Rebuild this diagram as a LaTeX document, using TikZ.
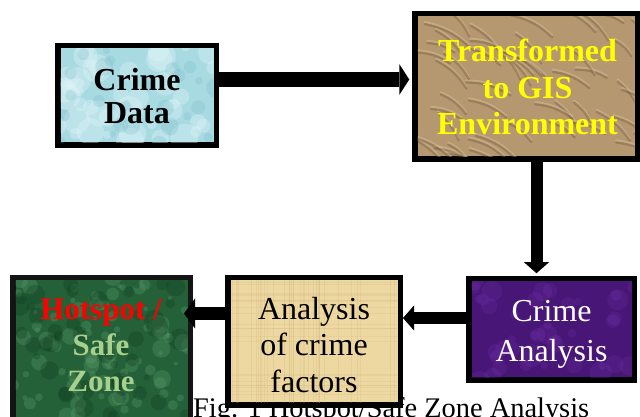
\documentclass[tikz,border=0pt]{standalone}
\usepackage{fontspec}
\setmainfont{Liberation Serif}
\usetikzlibrary{arrows.meta}
\definecolor{cdfill}{RGB}{168,218,226}
\definecolor{cdlight}{RGB}{225,245,248}
\definecolor{cddark}{RGB}{120,185,198}
\definecolor{trfill}{RGB}{182,152,112}
\definecolor{trdark}{RGB}{105,80,52}
\definecolor{trlight}{RGB}{230,210,175}
\definecolor{cafill}{RGB}{72,22,118}
\definecolor{calight}{RGB}{105,45,160}
\definecolor{anfill}{RGB}{238,216,162}
\definecolor{anfiber}{RGB}{205,178,120}
\definecolor{hsfill}{RGB}{36,96,56}
\definecolor{hslight}{RGB}{95,160,110}
\definecolor{hsdark}{RGB}{15,60,32}
\definecolor{boxdark}{RGB}{20,20,20}
\definecolor{safegreen}{RGB}{168,208,140}
\definecolor{gisyellow}{RGB}{255,255,0}
\begin{document}
\begin{tikzpicture}[x=1pt,y=1pt,
  box/.style={draw=black, line width=5.5pt, inner sep=0pt},
  label text/.style={anchor=north, inner sep=0pt, align=center},
  bigarrow/.style={line width=15pt, -{Triangle[width=31pt,length=10pt,line width=0pt]}},
  midarrow/.style={line width=12pt, -{Triangle[width=25pt,length=11pt,line width=0pt]}},
  lowarrow/.style={line width=13pt, -{Triangle[width=30pt,length=11pt,line width=0pt]}}]
\clip (0,0) rectangle (640,417);
\fill[white] (0,0) rectangle (640,417);
\pgfmathsetseed{7}
% caption (partly hidden behind the boxes)
\node[anchor=base west, inner sep=0pt, font=\fontsize{28.4}{30}\selectfont] (cap) at (193,-0.5) {Fig. 1 Hotspot/Safe Zone Analysis};
% boxes
\node[box, fill=cdfill, minimum width=158.5pt, minimum height=99.5pt] (cd) at (137,321.5) {};
\node[box, fill=trfill, minimum width=222.5pt, minimum height=145.5pt] (tr) at (526,330.5) {};
\node[box, fill=cafill, minimum width=165.5pt, minimum height=101.5pt] (ca) at (551.5,87.5) {};
\node[box, fill=anfill, minimum width=172.5pt, minimum height=127.5pt] (an) at (314,75.5) {};
\node[box, draw=boxdark, fill=hsfill, minimum width=177.5pt, minimum height=149.5pt] (hs) at (101.5,64.5) {};
% textures inside the boxes
\begin{scope}
\clip (60.5,274.5) rectangle (213.5,368.5);
\foreach \i in {1,...,45}{
  \pgfmathsetmacro\px{58+158*rnd}
  \pgfmathsetmacro\py{272+98*rnd}
  \pgfmathsetmacro\pr{4+11*rnd}
  \fill[cdlight,opacity=0.35] (\px,\py) circle[radius=\pr pt];
}
\foreach \i in {1,...,25}{
  \pgfmathsetmacro\px{58+158*rnd}
  \pgfmathsetmacro\py{272+98*rnd}
  \pgfmathsetmacro\pr{3+7*rnd}
  \fill[cddark,opacity=0.25] (\px,\py) circle[radius=\pr pt];
}
\end{scope}
\begin{scope}
\clip (417.5,260.5) rectangle (634.5,400.5);
\foreach \i in {1,...,50}{
  \pgfmathsetmacro\px{405+235*rnd}
  \pgfmathsetmacro\py{262+150*rnd}
  \pgfmathsetmacro\dx{15+30*rnd}
  \pgfmathsetmacro\dy{-8-22*rnd}
  \draw[trlight, opacity=0.35, line width=2pt, line cap=round] (\px,\py+2) to[bend left=15] ++(\dx pt,\dy pt);
  \draw[trdark, opacity=0.35, line width=2.4pt, line cap=round] (\px,\py) to[bend left=15] ++(\dx pt,\dy pt);
}
\end{scope}
\begin{scope}
\clip (471.5,39.5) rectangle (631.5,135.5);
\foreach \i in {1,...,40}{
  \pgfmathsetmacro\px{468+168*rnd}
  \pgfmathsetmacro\py{36+104*rnd}
  \pgfmathsetmacro\pr{3+9*rnd}
  \fill[calight,opacity=0.3] (\px,\py) circle[radius=\pr pt];
}
\end{scope}
\begin{scope}
\clip (230.5,14.5) rectangle (397.5,136.5);
\foreach \i in {1,...,35}{
  \pgfmathsetmacro\px{227+174*rnd}
  \draw[anfiber, opacity=0.25, line width=0.8pt] (\px,0) -- (\px,140);
}
\foreach \i in {1,...,25}{
  \pgfmathsetmacro\py{10+130*rnd}
  \draw[anfiber, opacity=0.2, line width=0.8pt] (227,\py) -- (401,\py);
}
\end{scope}
\begin{scope}
\clip (15.5,0) rectangle (187.5,136.5);
\foreach \i in {1,...,90}{
  \pgfmathsetmacro\px{12+180*rnd}
  \pgfmathsetmacro\py{140*rnd}
  \pgfmathsetmacro\pr{2+7*rnd}
  \fill[hslight,opacity=0.3] (\px,\py) circle[radius=\pr pt];
}
\foreach \i in {1,...,50}{
  \pgfmathsetmacro\px{12+180*rnd}
  \pgfmathsetmacro\py{140*rnd}
  \pgfmathsetmacro\pr{3+8*rnd}
  \fill[hsdark,opacity=0.3] (\px,\py) circle[radius=\pr pt];
}
\end{scope}
% texts
\node[label text, font=\bfseries\fontsize{32}{33}\selectfont] (cdt) at (137,349) {Crime\\Data};
\node[label text, text=gisyellow, font=\bfseries\fontsize{32}{36.5}\selectfont] (trt) at (527.5,378) {Transformed\\to GIS\\Environment};
\node[label text, text=white, font=\fontsize{32}{40}\selectfont] (cat) at (551.5,117) {Crime\\Analysis};
\node[label text, font=\fontsize{32}{36.5}\selectfont] (ant) at (314,120) {Analysis\\of crime\\factors};
\node[label text, text=safegreen, font=\bfseries\fontsize{31}{36}\selectfont] (hst) at (101,118.5) {\textcolor{red}{Hotspot /}\\Safe\\Zone};
% connectors
\path ([yshift=16pt]cd.east) coordinate (a1s);
\path (a1s -| tr.west) coordinate (a1e);
\draw[bigarrow] (a1s) -- ([xshift=-2.75pt]a1e);
\path ([xshift=10.5pt]tr.south) coordinate (a2s);
\path (a2s |- ca.north) coordinate (a2e);
\draw[midarrow] (a2s) -- ([yshift=2.75pt]a2e);
\path ([yshift=11.5pt]ca.west) coordinate (a3s);
\path (a3s -| an.east) coordinate (a3e);
\draw[midarrow] (a3s) -- (a3e);
\path ([yshift=28pt]an.west) coordinate (a4s);
\path (a4s -| hs.east) coordinate (a4e);
\draw[lowarrow] (a4s) -- ([xshift=-9pt]a4e);
\end{tikzpicture}
\end{document}
